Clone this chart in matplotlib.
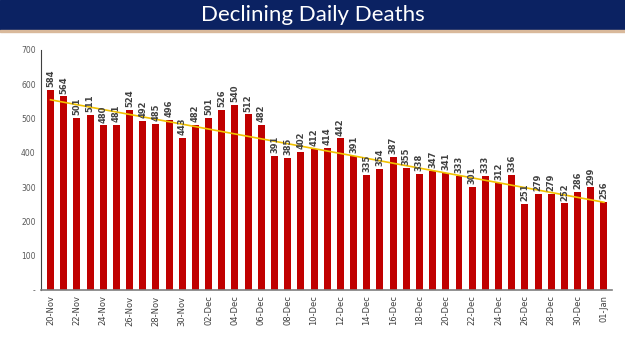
import matplotlib.pyplot as plt
import numpy as np
import pandas as pd

dates = pd.date_range("2020-11-20", "2021-01-01", freq="D")
deaths = [584, 564, 501, 511, 480, 481, 524, 492, 485, 496, 443, 482, 501, 526,
          540, 512, 482, 391, 385, 402, 412, 414, 442, 391, 335, 354, 387, 355,
          338, 347, 341, 333, 301, 333, 312, 336, 251, 279, 279, 252, 286, 299, 256]
labels = [d.strftime("%d-%b") for d in dates]
yticks = [0, 100, 200, 300, 400, 500, 600, 700]

fig = plt.figure(figsize=(6.25, 3.51), dpi=100)

# title banner
fig.patches.append(plt.Rectangle((0, 0.915), 1, 0.085, transform=fig.transFigure,
                                 color="#0b2262", zorder=0))
fig.patches.append(plt.Rectangle((0, 0.909), 1, 0.006, transform=fig.transFigure,
                                 color="#d9b99b", zorder=0))
fig.text(0.5, 0.956, "Declining Daily Deaths", color="white", fontsize=16,
         ha="center", va="center", family="Lato")

ax = fig.add_axes([0.066, 0.174, 0.913, 0.684])
x = np.arange(len(deaths))
ax.bar(x, deaths, width=0.53, color="#c00000")

# linear trend
k, b = np.polyfit(x, deaths, 1)
ax.plot(x, k * x + b, color="#f2c200", lw=1.2)

for i, v in enumerate(deaths):
    ax.text(i, v + 8, str(v), rotation=90, ha="center", va="bottom",
            fontsize=6, color="#404040", fontweight="bold")

ax.set_xlim(-0.7, len(deaths) - 0.4)
ax.set_ylim(0, 700)
ax.set_xticks(x[::2])
ax.set_xticklabels(labels[::2], rotation=90, fontsize=6, color="#404040")
ax.set_yticks(yticks)
ax.set_yticklabels(["-"] + [str(t) for t in yticks[1:]], fontsize=5.5, color="#595959")
ax.tick_params(length=0, pad=4)
for s in ["top", "right"]:
    ax.spines[s].set_visible(False)
ax.spines["left"].set_color("#404040")
ax.spines["bottom"].set_color("#7f7f7f")
ax.spines["bottom"].set_linewidth(1.2)

fig.savefig("out.png", dpi=100)
